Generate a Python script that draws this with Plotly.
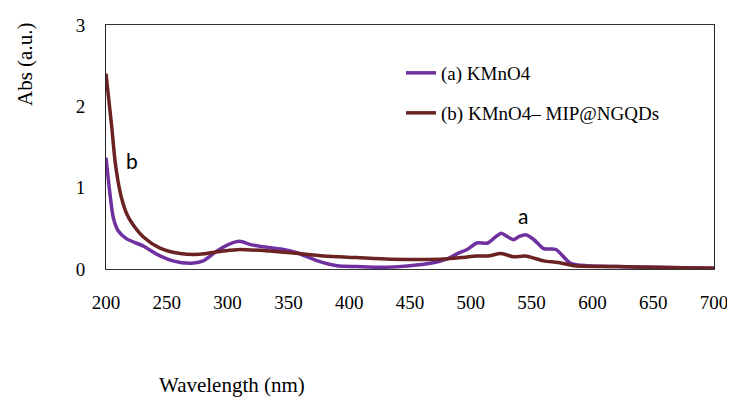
import plotly.graph_objects as go

# (a) KMnO4
wl_a = [200, 203.3, 206, 210, 217, 231, 242, 255, 270, 280, 291, 302, 310, 319, 335, 346, 357, 374, 390, 406,
        426, 450, 467, 480, 489, 497, 505, 514, 520, 525, 530, 535, 540, 545, 552, 560, 570, 582, 596, 620, 650, 700]
abs_a = [1.37, 0.92, 0.63, 0.47, 0.37, 0.28, 0.18, 0.10, 0.07, 0.10, 0.22, 0.31, 0.34, 0.30, 0.26, 0.24, 0.20, 0.10, 0.04, 0.03,
         0.02, 0.04, 0.07, 0.12, 0.19, 0.24, 0.32, 0.32, 0.39, 0.44, 0.40, 0.36, 0.40, 0.42, 0.36, 0.25, 0.24, 0.07, 0.04, 0.03, 0.02, 0.01]

# (b) KMnO4– MIP@NGQDs
wl_b = [200, 204.7, 207.4, 210, 213, 217, 222, 231, 244, 261, 277, 296, 310, 335, 352, 379, 406, 434, 475, 492, 505, 514, 525,
        535, 545, 560, 572, 585, 620, 650, 700]
abs_b = [2.40, 1.75, 1.33, 1.07, 0.86, 0.68, 0.55, 0.39, 0.26, 0.19, 0.18, 0.22, 0.24, 0.22, 0.20, 0.16, 0.14, 0.12, 0.12, 0.14, 0.16, 0.16, 0.19,
         0.15, 0.16, 0.10, 0.08, 0.04, 0.03, 0.02, 0.01]

x_ticks = [200, 250, 300, 350, 400, 450, 500, 550, 600, 650, 700]
y_ticks = [0, 1, 2, 3]

serif = "Liberation Serif"
sans = "Lato"

# page body has an 8px margin, so the figure is offset by (8, 8)
OFF = 8
W, H = 735 - OFF, 405 - OFF
L, T = 106 - OFF, 25 - OFF
R, B = 714 - OFF, 269 - OFF

fig = go.Figure()
fig.add_trace(go.Scatter(x=wl_a, y=abs_a, mode="lines", name="(a) KMnO4", legend="legend",
                         line=dict(color="#7030A0", width=3.5, shape="spline", smoothing=0.7)))
fig.add_trace(go.Scatter(x=wl_b, y=abs_b, mode="lines", name="(b) KMnO4– MIP@NGQDs", legend="legend2",
                         line=dict(color="#6B2222", width=3.5, shape="spline", smoothing=0.7)))

leg_common = dict(xanchor="left", yanchor="middle", font=dict(family=serif, size=19, color="black"),
                  bgcolor="rgba(0,0,0,0)", borderwidth=0, itemwidth=30)

def px(xw):
    return (xw - 106) / (714 - 106)

def py(yw):
    return (269 - yw) / (269 - 25)

fig.update_layout(
    width=W, height=H,
    margin=dict(l=L, r=W - R, t=T, b=H - B, autoexpand=False),
    paper_bgcolor="white", plot_bgcolor="white",
    font=dict(family=serif, size=18, color="black"),
    showlegend=True,
    legend=dict(x=px(401), y=py(73), **leg_common),
    legend2=dict(x=px(401), y=py(113), **leg_common),
    xaxis=dict(range=[200, 700], tickmode="array", tickvals=x_ticks, ticktext=[str(v) for v in x_ticks],
               showgrid=False, zeroline=False, showline=True, linecolor="#333", linewidth=1, mirror=True,
               ticks="outside", ticklen=16, tickcolor="rgba(0,0,0,0)", automargin=False,
               ticklabeloverflow="allow",
               tickfont=dict(family=serif, size=19, color="black")),
    yaxis=dict(range=[0, 3], tickmode="array", tickvals=y_ticks, ticktext=[str(v) for v in y_ticks],
               showgrid=False, zeroline=False, showline=True, linecolor="#222", linewidth=1, mirror=True,
               ticks="outside", ticklen=16, tickcolor="rgba(0,0,0,0)", automargin=False,
               tickfont=dict(family=serif, size=19, color="black")),
    annotations=[
        dict(text="Wavelength (nm)", xref="paper", yref="paper", x=px(232), y=py(385),
             showarrow=False, xanchor="center", yanchor="middle", font=dict(family=serif, size=21)),
        dict(text="Abs (a.u.)", xref="paper", yref="paper", x=px(25), y=py(65),
             showarrow=False, xanchor="center", yanchor="middle", textangle=-90, font=dict(family=serif, size=21)),
        dict(text="b", x=221, y=1.34, showarrow=False, font=dict(family=sans, size=21)),
        dict(text="a", x=543, y=0.66, showarrow=False, font=dict(family=sans, size=21)),
    ],
)

fig.write_html("out.html")
